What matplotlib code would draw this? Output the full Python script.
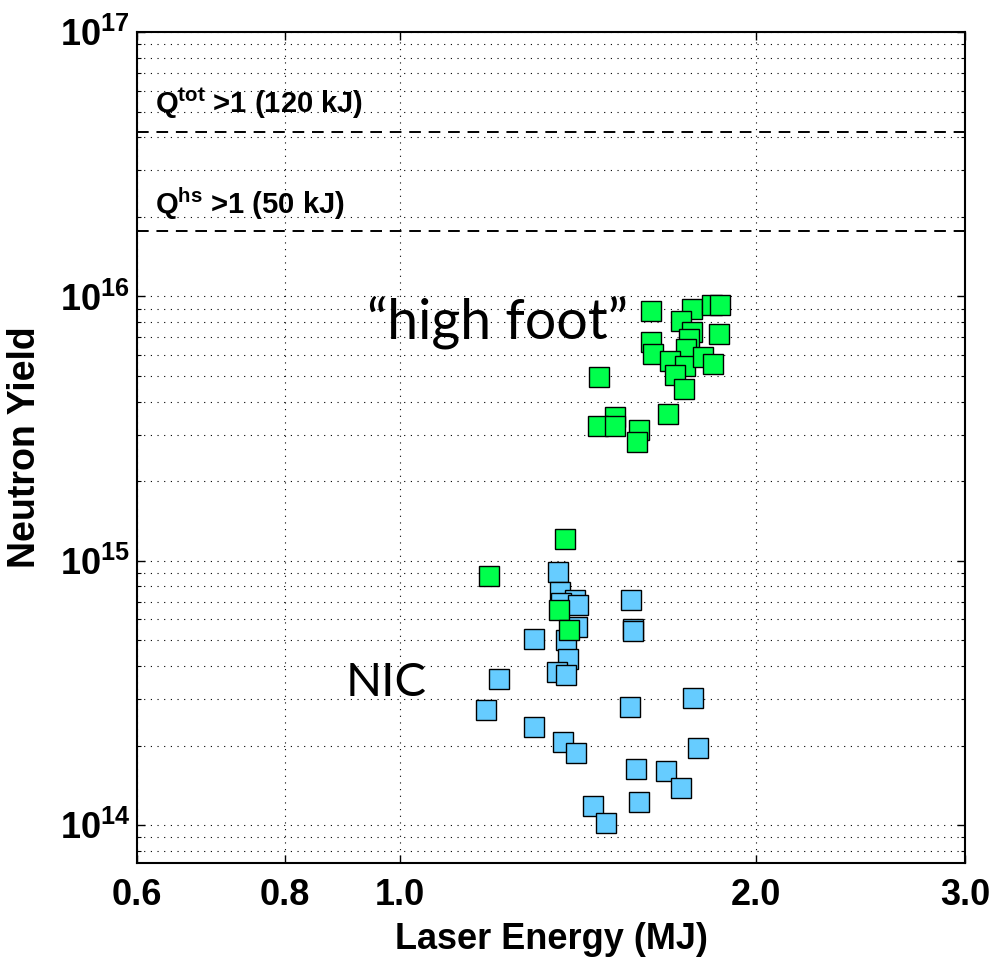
import matplotlib
matplotlib.use('Agg')
import matplotlib.pyplot as plt
from matplotlib.ticker import FixedLocator, FixedFormatter, LogLocator, NullFormatter

plt.rcParams['font.family'] = ['Liberation Sans', 'DejaVu Sans']
plt.rcParams['mathtext.fontset'] = 'custom'
plt.rcParams['mathtext.rm'] = 'Liberation Sans:bold'
plt.rcParams['mathtext.bf'] = 'Liberation Sans:bold'

# NIC shots (blue)
nic_energy = [1.360, 1.366, 1.406, 1.368, 1.415, 1.411, 1.382, 1.298, 1.386,
              1.358, 1.381, 1.213, 1.182, 1.297, 1.374, 1.409, 1.568, 1.575,
              1.573, 1.565, 1.768, 1.784, 1.582, 1.679, 1.728, 1.457, 1.593,
              1.494]
nic_yield = [9.06e14, 7.65e14, 7.12e14, 6.94e14, 6.82e14, 5.64e14, 5.03e14,
             5.07e14, 4.26e14, 3.80e14, 3.69e14, 3.57e14, 2.73e14, 2.36e14,
             2.07e14, 1.88e14, 7.12e14, 5.50e14, 5.44e14, 2.81e14, 3.03e14,
             1.96e14, 1.63e14, 1.61e14, 1.38e14, 1.18e14, 1.22e14, 1.02e14]

# high foot shots (green)
hf_energy = [1.628, 1.765, 1.835, 1.864, 1.728, 1.765, 1.756, 1.861, 1.628,
             1.637, 1.745, 1.691, 1.741, 1.804, 1.840, 1.708, 1.474, 1.737,
             1.685, 1.520, 1.471, 1.520, 1.593, 1.585, 1.379, 1.190, 1.364,
             1.390]
hf_yield = [8.79e15, 8.97e15, 9.30e15, 9.27e15, 8.10e15, 7.36e15, 6.93e15,
            7.20e15, 6.75e15, 6.06e15, 6.31e15, 5.70e15, 5.46e15, 5.89e15,
            5.54e15, 5.05e15, 4.95e15, 4.46e15, 3.59e15, 3.49e15, 3.24e15,
            3.24e15, 3.13e15, 2.81e15, 1.21e15, 8.75e14, 6.49e14, 5.48e14]

# ignition thresholds
thresh_yield = [4.2e16, 1.77e16]
thresh_labels = [r'$\mathbf{Q^{tot}}$ >1 (120 kJ)', r'$\mathbf{Q^{hs}}$ >1 (50 kJ)']

x_ticks = [0.6, 0.8, 1.0, 2.0, 3.0]
x_ticklabels = ['0.6', '0.8', '1.0', '2.0', '3.0']
y_ticks = [1e14, 1e15, 1e16, 1e17]
y_ticklabels = [r'$\mathbf{10^{14}}$', r'$\mathbf{10^{15}}$',
                r'$\mathbf{10^{16}}$', r'$\mathbf{10^{17}}$']

fig = plt.figure(figsize=(9.94, 9.58), dpi=100)
ax = fig.add_axes([0.1378, 0.0992, 0.8330, 0.8674])

ax.set_xscale('log')
ax.set_yscale('log')
ax.set_xlim(0.6, 3.0)
ax.set_ylim(7.2e13, 1e17)

for yv in thresh_yield:
    ax.axhline(yv, color='k', linestyle=(0, (6, 4)), linewidth=1.4, zorder=2)

ax.plot(nic_energy, nic_yield, 's', color='#66CCFF', markeredgecolor='k',
        markersize=14.5, markeredgewidth=1.0, zorder=3)
ax.plot(hf_energy, hf_yield, 's', color='#00FF4C', markeredgecolor='k',
        markersize=14.5, markeredgewidth=1.0, zorder=4)

ax.xaxis.set_major_locator(FixedLocator(x_ticks))
ax.xaxis.set_major_formatter(FixedFormatter(x_ticklabels))
ax.xaxis.set_minor_locator(FixedLocator([]))
ax.yaxis.set_major_locator(FixedLocator(y_ticks))
ax.yaxis.set_major_formatter(FixedFormatter(y_ticklabels))
ax.yaxis.set_minor_locator(LogLocator(base=10, subs=range(2, 10), numticks=20))
ax.yaxis.set_minor_formatter(NullFormatter())

ax.grid(True, which='major', color='k', linestyle=(0, (1, 5)), linewidth=0.8)
ax.grid(True, which='minor', axis='y', color='k', linestyle=(0, (1, 5)), linewidth=0.8)

ax.tick_params(which='both', direction='in', top=True, right=True)
ax.tick_params(which='major', length=6, width=1)
ax.tick_params(which='minor', length=3, width=0.8)
ax.tick_params(axis='x', pad=11, labelsize=26)
ax.tick_params(axis='y', pad=5, labelsize=26)
for lbl in ax.get_xticklabels():
    lbl.set_fontweight('bold')

for s in ax.spines.values():
    s.set_linewidth(1.5)

ax.set_xlabel('Laser Energy (MJ)', fontsize=26, fontweight='bold', labelpad=6)
ax.set_ylabel('Neutron Yield', fontsize=27, fontweight='bold', labelpad=12)

ax.text(0.022, 0.914, thresh_labels[0], transform=ax.transAxes,
        fontsize=21, fontweight='bold', va='center', ha='left')
ax.text(0.022, 0.793, thresh_labels[1], transform=ax.transAxes,
        fontsize=21, fontweight='bold', va='center', ha='left')

ax.text(0.435, 0.651, '\u201chigh foot\u201d', transform=ax.transAxes,
        fontsize=40, family=['Lato', 'DejaVu Sans'], ha='center', va='center')
ax.text(0.301, 0.217, 'NIC', transform=ax.transAxes,
        fontsize=34, family=['Lato', 'DejaVu Sans'], ha='center', va='center')

fig.savefig('out.png', dpi=100)
